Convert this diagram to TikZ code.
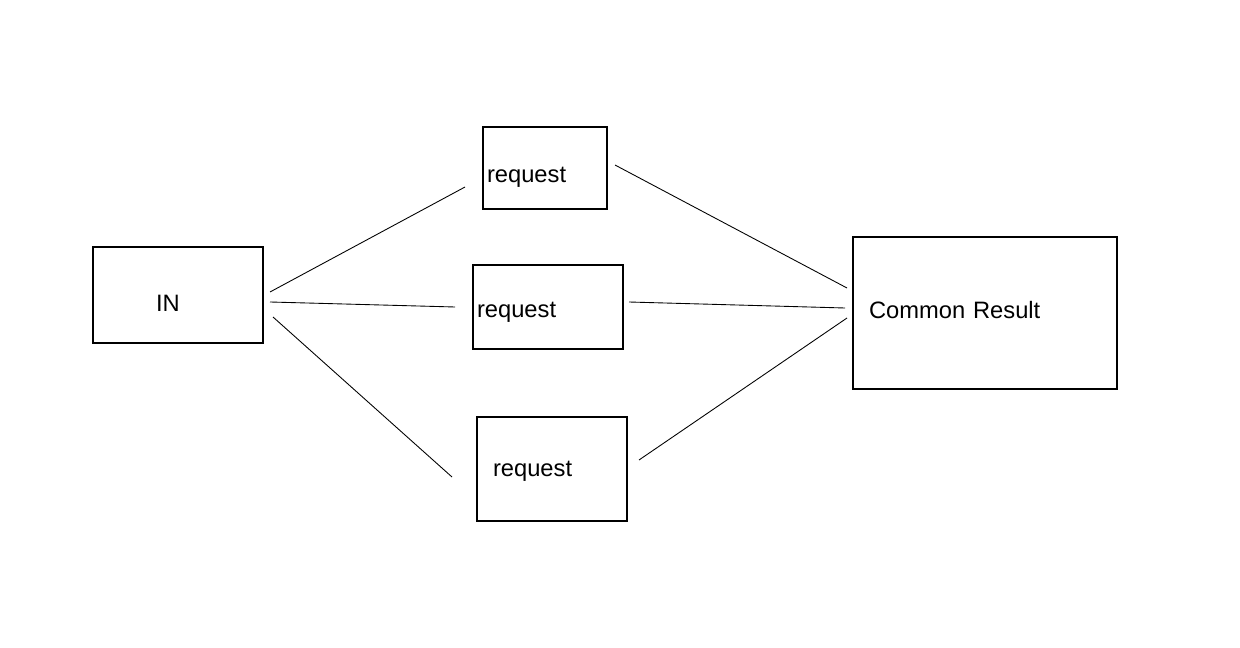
\documentclass[tikz,border=0pt]{standalone}
\usepackage{fontspec}
\setmainfont{Liberation Sans}
\newcommand\dropby[2]{\raisebox{-#1}[\height][\depth]{#2}}
\tikzset{
  box/.style={draw, line width=0.6pt, align=left, inner ysep=0pt},
  link/.style={line width=0.5pt},
}
\begin{document}
\begin{tikzpicture}[x=0.02cm, y=-0.02cm, font=\fontsize{13.5}{16}\selectfont]
\useasboundingbox (0,0) rectangle (1240,648);
\node[box, minimum width=170*0.02cm, minimum height=96*0.02cm, align=center] (in) at (178,295) {\hspace*{-0.4cm}\dropby{0.16cm}{IN}};
\node[box, text width=116*0.02cm, minimum height=82*0.02cm, inner xsep=4*0.02cm] (req1) at (545,168) {\dropby{0.18cm}{request}};
\node[box, text width=142*0.02cm, minimum height=84*0.02cm, inner xsep=4*0.02cm] (req2) at (548,307) {\dropby{0.1cm}{request}};
\node[box, text width=118*0.02cm, minimum height=104*0.02cm, inner xsep=16*0.02cm] (req3) at (552,469) {\dropby{0.04cm}{request}};
\node[box, text width=232*0.02cm, minimum height=152*0.02cm, inner xsep=16*0.02cm] (res) at (985,313) {\dropby{-0.06cm}{Common Result}};
% loose ends of the links
\coordinate (a1) at (270,292);
\coordinate (a2) at (270,302);
\coordinate (a3) at (273,317);
\coordinate (b1) at (465,187);
\coordinate (b2) at (455,307);
\coordinate (b3) at (452,477);
\coordinate (c1) at (615,165);
\coordinate (c2) at (629,302);
\coordinate (c3) at (639,460);
\coordinate (d1) at (847,288);
\coordinate (d2) at (845,308);
\coordinate (d3) at (847,318);
\draw[link] (a1) -- (b1);
\draw[link] (a2) -- (b2);
\draw[link] (a3) -- (b3);
\draw[link] (c1) -- (d1);
\draw[link] (c2) -- (d2);
\draw[link] (c3) -- (d3);
\end{tikzpicture}
\end{document}
